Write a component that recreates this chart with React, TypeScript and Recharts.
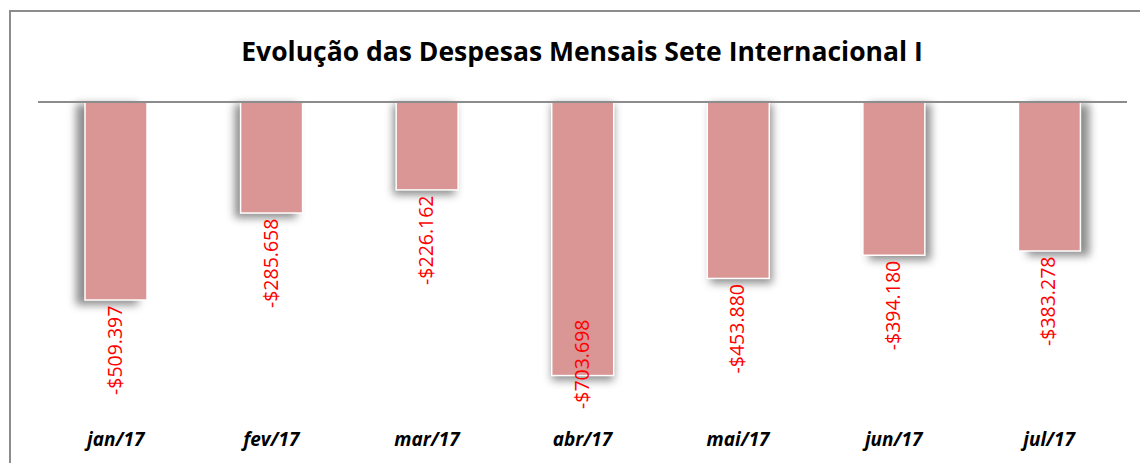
import { BarChart, Bar, XAxis, YAxis, ReferenceLine, LabelList } from 'recharts';

const months = ['jan/17', 'fev/17', 'mar/17', 'abr/17', 'mai/17', 'jun/17', 'jul/17'];
const despesas = [-509.397, -285.658, -226.162, -703.698, -453.88, -394.18, -383.278];
const rotulos = ['-$509.397', '-$285.658', '-$226.162', '-$703.698', '-$453.880', '-$394.180', '-$383.278'];

const data = months.map((m, i) => ({ mes: m, valor: despesas[i], rotulo: rotulos[i] }));

const CHART_W = 1140;
const CHART_H = 463;
const PLOT_BOTTOM = 413;

const ShadowBar = (props: any) => {
  const { x, y, width, height, index } = props;
  const top = Math.min(y, y + height);
  const h = Math.abs(height);
  const cx = x + width / 2;
  const dx = ((cx - 582) / 466) * 9;
  const id = `sh-${index}`;
  return (
    <g>
      <defs>
        <filter id={id} x="-50%" y="-20%" width="200%" height="140%">
          <feGaussianBlur stdDeviation="4" />
        </filter>
      </defs>
      <rect x={x + dx} y={top + 2} width={width} height={h + 3} fill="#7a7a7a" opacity={0.85} filter={`url(#${id})`} />
      <rect x={x} y={top} width={width} height={h} fill="#D99694" stroke="#ffffff" strokeWidth={1.5} />
    </g>
  );
};

const ValueLabel = (props: any) => {
  const { x, y, width, height, value } = props;
  const bottom = Math.max(y, y + height);
  const cx = x + width / 2;
  const startY = Math.min(bottom + 6 + 89, PLOT_BOTTOM - 4);
  return (
    <text
      x={cx}
      y={startY}
      transform={`rotate(-90 ${cx} ${startY})`}
      dy={6}
      textAnchor="start"
      fill="#FF0000"
      fontSize={19.5}
      fontFamily="'Open Sans', sans-serif"
    >
      {value}
    </text>
  );
};

const MonthTick = (props: any) => {
  const { x, y, payload } = props;
  return (
    <text
      x={x}
      y={y + 33}
      textAnchor="middle"
      fill="#000"
      fontSize={19}
      fontWeight="bold"
      fontStyle="italic"
      fontFamily="'Open Sans', sans-serif"
    >
      {payload.value}
    </text>
  );
};

export default function App() {
  return (
    <div style={{ position: 'absolute', left: 0, top: 0, width: CHART_W, height: CHART_H, background: '#fff', overflow: 'hidden' }}>
      <div
        style={{
          position: 'absolute',
          left: 9,
          top: 10,
          width: CHART_W + 20,
          height: CHART_H + 20,
          border: '2px solid #8c8c8c',
          boxSizing: 'border-box',
        }}
      />
      <div
        style={{
          position: 'absolute',
          left: 0,
          top: 33,
          width: 1164,
          textAlign: 'center',
          fontFamily: "'Open Sans', sans-serif",
          fontWeight: 'bold',
          fontSize: 26.5,
          color: '#000',
        }}
      >
        Evolução das Despesas Mensais Sete Internacional I
      </div>
      <div style={{ position: 'absolute', left: 0, top: 0 }}>
        <BarChart
          width={CHART_W}
          height={CHART_H}
          data={data}
          margin={{ top: 102, right: 13, left: 38, bottom: 0 }}
          barSize={62}
        >
          <XAxis
            dataKey="mes"
            axisLine={false}
            tickLine={false}
            tickSize={0}
            tickMargin={0}
            height={CHART_H - PLOT_BOTTOM}
            tick={<MonthTick />}
            interval={0}
          />
          <YAxis hide domain={[-800, 0]} />
          <Bar dataKey="valor" shape={<ShadowBar />} isAnimationActive={false}>
            <LabelList dataKey="rotulo" content={<ValueLabel />} />
          </Bar>
          <ReferenceLine y={0} stroke="#8c8c8c" strokeWidth={2} />
        </BarChart>
      </div>
    </div>
  );
}
